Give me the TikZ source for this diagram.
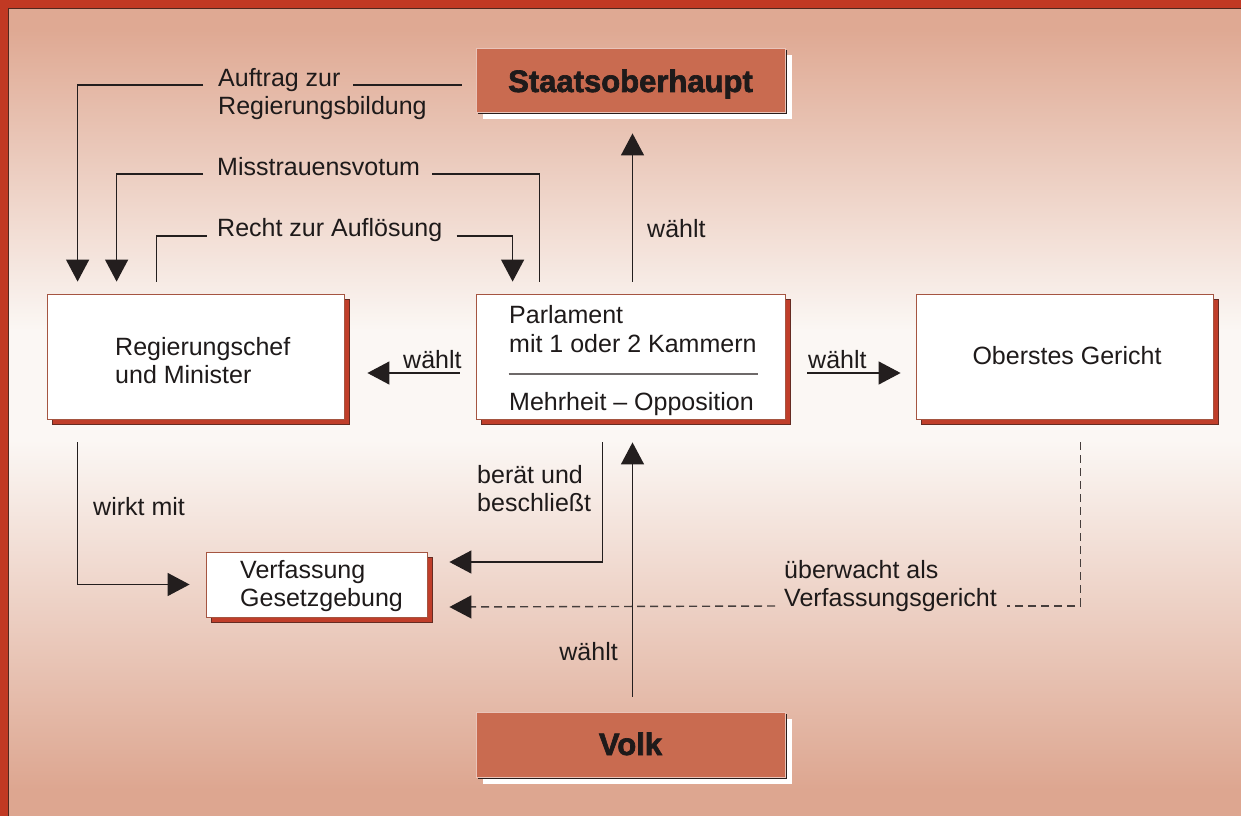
\documentclass[tikz,border=0pt]{standalone}
\usepackage{fontspec}
\setmainfont{Liberation Sans}
\newfontfamily\heavyfont[BoldFeatures={FakeBold=2.2}]{Liberation Sans}
\usetikzlibrary{arrows.meta,shadows}
\definecolor{salmon}{RGB}{223,169,147}
\definecolor{salmonb}{RGB}{221,166,144}
\definecolor{paleband}{RGB}{251,247,244}
\definecolor{framered}{RGB}{193,57,35}
\definecolor{framedark}{RGB}{80,40,30}
\definecolor{boxred}{RGB}{201,107,80}
\definecolor{shred}{RGB}{192,62,42}
\definecolor{darkedge}{RGB}{40,30,28}
\definecolor{boxline}{RGB}{165,85,65}
\definecolor{linec}{RGB}{35,30,30}
\definecolor{dashc}{RGB}{70,62,60}
\definecolor{ink}{RGB}{30,26,26}
\definecolor{rulec}{RGB}{110,105,105}
\newcommand\lblfont{\fontsize{25}{28}\selectfont}
\newcommand\headfont{\heavyfont\bfseries\fontsize{31}{34}\selectfont}
\begin{document}
\begin{tikzpicture}[x=1pt,y=-1pt,
  conn/.style={draw=linec, line width=1.3pt},
  arr/.style={conn, -{Triangle[length=22pt,width=23pt]}},
  tipgap/.style={shorten >=12pt},
  dashconn/.style={draw=dashc, line width=1.4pt, dash pattern=on 8pt off 5pt},
  txt/.style={anchor=base west, inner sep=0pt, font=\lblfont, text=ink},
  wbox/.style={draw=boxline, line width=0.8pt, fill=white, inner sep=0pt,
     general shadow={shadow xshift=5pt, shadow yshift=-5pt, fill=shred, draw=darkedge!60!shred, line width=0.6pt}},
  cbox/.style={fill=boxred, draw=white!60!boxred, line width=0.8pt, inner sep=0pt, text=ink, font=\headfont,
     general shadow={shadow xshift=7pt, shadow yshift=-7pt, fill=white},
     general shadow={shadow xshift=1.6pt, shadow yshift=-1.6pt, fill=darkedge}}
]
\useasboundingbox (0,0) rectangle (1241,816);
% background
\fill[salmon] (0,0) rectangle (1241,30);
\shade[top color=salmon, bottom color=paleband] (0,30) rectangle (1241,330);
\fill[paleband] (0,329.5) rectangle (1241,440.5);
\shade[top color=paleband, bottom color=salmonb] (0,440) rectangle (1241,790);
\fill[salmonb] (0,789.5) rectangle (1241,816);
% frame
\fill[framered] (0,0) rectangle (1241,8);
\fill[framered] (0,0) rectangle (8,816);
\draw[framedark, line width=1.5pt] (8.5,816) -- (8.5,8.5) -- (1241,8.5);

% boxes
\node[cbox, minimum width=309pt, minimum height=64pt, text height=26pt, text depth=2pt] (staats) at (630.5,80) {Staatsoberhaupt};
\node[cbox, minimum width=309pt, minimum height=65pt, text height=24pt, text depth=3pt] (volk) at (630.5,744.5) {Volk};
\node[wbox, minimum width=297pt, minimum height=125pt] (reg) at (195.5,356.5) {};
\node[wbox, minimum width=309pt, minimum height=125pt] (parl) at (630.5,356.5) {};
\node[wbox, minimum width=297pt, minimum height=125pt] (ober) at (1064.5,356.5) {};
\node[wbox, minimum width=221pt, minimum height=65pt] (verf) at (316.5,584.5) {};

% box texts
\node[txt] (reg1) at (115,355) {Regierungschef};
\node[txt] (reg2) at (115,383) {und Minister};
\node[txt] (parl1) at (509,323) {Parlament};
\node[txt] (parl2) at (509,352) {mit 1 oder 2 Kammern};
\node[txt] (parl3) at (509,410) {Mehrheit -- Opposition};
\draw[rulec, line width=1.2pt] ([xshift=33pt,yshift=-17.5pt]parl.west) -- ([xshift=-27pt,yshift=-17.5pt]parl.east);
\node[txt, anchor=base] (ober1) at (1067,364) {Oberstes Gericht};
\node[txt] (verf1) at (240,578) {Verfassung};
\node[txt] (verf2) at (240,606) {Gesetzgebung};

% connector labels
\node[txt] (auf1) at (218,86) {Auftrag zur};
\node[txt] (auf2) at (218,114) {Regierungsbildung};
\node[txt] (miss) at (217,175) {Misstrauensvotum};
\node[txt] (recht) at (217,236) {Recht zur Auflösung};
\node[txt] (w1) at (647,237) {wählt};
\node[txt] (w2) at (403,368) {wählt};
\node[txt] (w3) at (808,368) {wählt};
\node[txt] (ber1) at (477,483) {berät und};
\node[txt] (ber2) at (477,511) {beschließt};
\node[txt] (wirkt) at (93,515) {wirkt mit};
\node[txt, anchor=base east] (w4) at (618,660) {wählt};
\node[txt] (ub1) at (784,578) {überwacht als};
\node[txt] (ub2) at (784,606) {Verfassungsgericht};

% connectors
% Auftrag zur Regierungsbildung
\draw[conn] ([xshift=-14pt,yshift=-5pt]staats.west) -- ([xshift=12pt,yshift=1pt]auf1.base east);
\draw[arr, tipgap] ([xshift=-15pt,yshift=1pt]auf1.base west) -| ([xshift=31pt]reg.north west);
% Misstrauensvotum
\draw[conn] ([xshift=64pt,yshift=12pt]parl.north west) |- ([xshift=12pt,yshift=1pt]miss.base east);
\draw[arr, tipgap] ([xshift=-14pt,yshift=1pt]miss.base west) -| ([xshift=70pt]reg.north west);
% Recht zur Aufloesung
\draw[conn] ([xshift=110pt,yshift=12pt]reg.north west) |- ([xshift=-10pt]recht.base west);
\draw[arr, tipgap] ([xshift=14pt]recht.base east) -| ([xshift=37pt]parl.north west);
% waehlt: Parlament -> Staatsoberhaupt
\draw[arr] ([xshift=2pt,yshift=12pt]parl.north) -- ([xshift=2pt,yshift=-21pt]staats.south);
% waehlt: Parlament -> Regierung
\draw[arr] ([xshift=-16pt,yshift=-16.5pt]parl.west) -- ([xshift=23pt,yshift=-16.5pt]reg.east);
% waehlt: Parlament -> Oberstes Gericht
\draw[arr] ([xshift=22pt,yshift=-16.5pt]parl.east) -- ([xshift=-15pt,yshift=-16.5pt]ober.west);
% wirkt mit
\draw[arr] ([xshift=31pt,yshift=-23pt]reg.south west) |- ([xshift=-16pt]verf.west);
% beraet und beschliesst
\draw[arr] ([xshift=127pt,yshift=-23pt]parl.south west) |- ([xshift=22pt,yshift=22.5pt]verf.east);
% waehlt: Volk -> Parlament
\draw[arr] ([xshift=2pt,yshift=15pt]volk.north) -- ([xshift=2pt,yshift=-23pt]parl.south);
% ueberwacht als Verfassungsgericht
\draw[dashconn] ([xshift=165pt,yshift=-23pt]ober.south west) |- ([xshift=10pt]ub2.base east);
\draw[dashconn, -{Triangle[length=22pt,width=23pt,color=linec,fill=linec]}] ([xshift=-9pt]ub2.base west) -- ([xshift=22pt,yshift=-22.5pt]verf.east);
\end{tikzpicture}
\end{document}
